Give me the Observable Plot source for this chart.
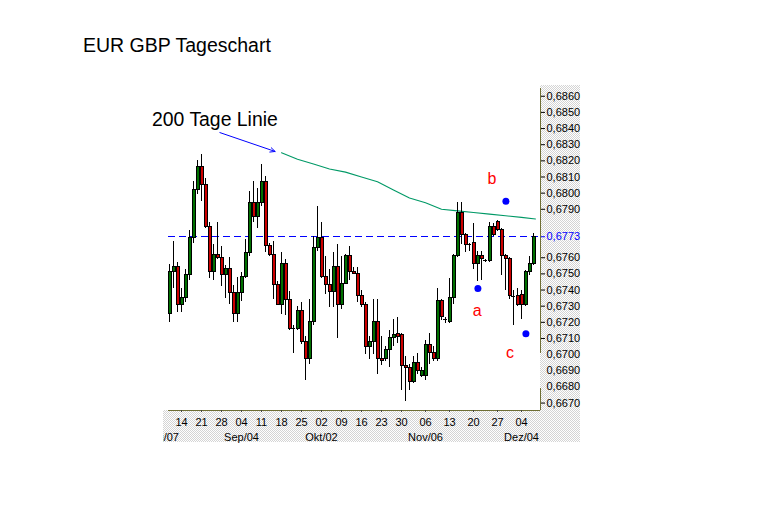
<!DOCTYPE html>
<html>
<head>
<meta charset="utf-8">
<script src="https://cdn.jsdelivr.net/npm/d3@7"></script>
<script src="https://cdn.jsdelivr.net/npm/@observablehq/plot@0.6"></script>
<style>
  html, body { margin: 0; padding: 0; background: #fff; }
  #wrap { position: relative; width: 779px; height: 520px; overflow: hidden; background: #fff; font-family: "Liberation Sans", Arial, sans-serif; }
  .dots { position: absolute; background-color: #fff; background-image: repeating-conic-gradient(#d4d4d4 0% 25%, #ffffff 0% 50%); background-size: 2px 2px; }
  #title { position: absolute; left: 83px; top: 36px; font-size: 19.5px; line-height: 19.5px; color: #000; white-space: nowrap; }
  #note { position: absolute; left: 152px; top: 109.6px; font-size: 19.4px; line-height: 19.4px; color: #000; white-space: nowrap; }
  #chart { position: absolute; left: 163px; top: 0; }
</style>
</head>
<body>
<div id="wrap">
  <div class="dots" style="left:540px;top:85px;width:40px;height:357px"></div>
  <div class="dots" style="left:163px;top:410px;width:417px;height:32px"></div>
  <div id="title">EUR GBP Tageschart</div>
  <div id="note">200 Tage Linie</div>
  <div id="chart"></div>
</div>
<script>
// Daily candles (trading-day index 0..91), EUR/GBP Aug–Dec 2006
const open = [0.6725,0.6751,0.6754,0.6731,0.6735,0.6749,0.6772,0.6802,0.6816,0.6805,
0.6779,0.6751,0.6762,0.6760,0.6749,0.6753,0.6738,0.6725,0.6738,0.6748,
0.6763,0.6794,0.6785,0.6794,0.6807,0.6767,0.6762,0.6743,0.6731,0.6756,
0.6734,0.6716,0.6716,0.6727,0.6708,0.6697,0.6720,0.6766,0.6772,0.6748,
0.6743,0.6739,0.6754,0.6731,0.6744,0.6761,0.6751,0.6750,0.6736,0.6731,
0.6705,0.6708,0.6720,0.6697,0.6697,0.6703,0.6710,0.6713,0.6712,0.6693,
0.6692,0.6683,0.6695,0.6687,0.6687,0.6706,0.6701,0.6697,0.6733,0.6722,
0.6720,0.6735,0.6761,0.6788,0.6774,0.6768,0.6769,0.6756,0.6761,0.6758,
0.6758,0.6779,0.6782,0.6777,0.6761,0.6759,0.6736,0.6736,0.6737,0.6731,
0.6751,0.6756];
const high = [0.6756,0.6770,0.6757,0.6741,0.6753,0.6777,0.6807,0.6820,0.6824,0.6809,
0.6782,0.6768,0.6782,0.6767,0.6755,0.6760,0.6743,0.6748,0.6751,0.6771,
0.6801,0.6807,0.6803,0.6818,0.6810,0.6769,0.6770,0.6745,0.6763,0.6759,
0.6739,0.6718,0.6730,0.6732,0.6711,0.6734,0.6773,0.6792,0.6782,0.6761,
0.6753,0.6763,0.6768,0.6761,0.6762,0.6767,0.6754,0.6754,0.6740,0.6732,
0.6711,0.6734,0.6734,0.6711,0.6705,0.6715,0.6722,0.6723,0.6713,0.6699,
0.6694,0.6699,0.6701,0.6692,0.6709,0.6713,0.6705,0.6741,0.6734,0.6723,
0.6747,0.6762,0.6794,0.6794,0.6775,0.6769,0.6781,0.6764,0.6764,0.6759,
0.6782,0.6781,0.6783,0.6778,0.6762,0.6760,0.6740,0.6741,0.6740,0.6752,
0.6761,0.6775];
const low = [0.6720,0.6741,0.6726,0.6726,0.6732,0.6746,0.6769,0.6799,0.6795,0.6778,
0.6747,0.6746,0.6759,0.6742,0.6735,0.6731,0.6720,0.6720,0.6733,0.6747,
0.6761,0.6782,0.6778,0.6792,0.6763,0.6761,0.6734,0.6731,0.6725,0.6724,
0.6715,0.6701,0.6715,0.6706,0.6684,0.6694,0.6718,0.6764,0.6747,0.6737,
0.6729,0.6729,0.6710,0.6728,0.6744,0.6746,0.6750,0.6732,0.6729,0.6700,
0.6697,0.6700,0.6688,0.6693,0.6696,0.6692,0.6705,0.6707,0.6678,0.6671,
0.6678,0.6682,0.6688,0.6686,0.6684,0.6694,0.6696,0.6696,0.6721,0.6719,
0.6719,0.6731,0.6760,0.6768,0.6763,0.6764,0.6753,0.6745,0.6746,0.6757,
0.6757,0.6773,0.6776,0.6749,0.6740,0.6734,0.6718,0.6730,0.6722,0.6730,
0.6749,0.6755];
const close = [0.6751,0.6754,0.6731,0.6735,0.6749,0.6772,0.6802,0.6816,0.6805,0.6779,
0.6751,0.6762,0.6760,0.6749,0.6753,0.6738,0.6725,0.6738,0.6748,0.6763,
0.6794,0.6785,0.6794,0.6807,0.6767,0.6762,0.6743,0.6731,0.6756,0.6734,
0.6716,0.6716,0.6727,0.6708,0.6697,0.6720,0.6766,0.6772,0.6748,0.6743,
0.6739,0.6754,0.6731,0.6744,0.6761,0.6751,0.6750,0.6736,0.6731,0.6705,
0.6708,0.6720,0.6697,0.6696,0.6703,0.6710,0.6712,0.6711,0.6693,0.6692,
0.6683,0.6695,0.6690,0.6690,0.6706,0.6701,0.6697,0.6733,0.6723,0.6722,
0.6735,0.6761,0.6788,0.6774,0.6768,0.6768,0.6756,0.6761,0.6759,0.6758,
0.6779,0.6774,0.6777,0.6761,0.6759,0.6736,0.6736,0.6731,0.6731,0.6751,
0.6756,0.6773];

// 200-day moving average (read at trading-day indices)
const maIdx = [28,32,36,40,44,48,52,56,60,64,68,72,76,80,84,88,91.5];
const maVal = [0.6825,0.6821,0.6818,0.6815,0.6813,0.6810,0.6807,0.6802,0.6797,0.6794,0.6790,0.6789,0.6788,0.6787,0.6786,0.6785,0.6784];

// Wave points a, b, c
const waveLabels = ["a","b","c"];
const waveDotIdx = [77.1, 84.1, 89.1];
const waveDotVal = [0.6741, 0.6795, 0.6713];
const waveTextIdx = [76.9, 80.6, 85.1];
const waveTextVal = [0.6727, 0.6809, 0.6701];

// Annotation arrow "200 Tage Linie"
const arrowIdx = [12.6, 26.4];
const arrowVal = [0.68375, 0.68258];

// Axis ticks
const dayIdx = [3,8,13,18,23,28,33,38,43,48,53,58,64,70,76,82,88];
const dayLabels = ["14","21","28","04","11","18","25","02","09","16","23","30","06","13","20","27","04"];
const monthIdx = [-2,18,38,64,88];
const monthLabels = ["Aug/07","Sep/04","Okt/02","Nov/06","Dez/04"];
const priceTicks = [0.6860,0.6850,0.6840,0.6830,0.6820,0.6810,0.6800,0.6790,0.6760,0.6750,0.6740,0.6730,0.6720,0.6710,0.6670];
const priceTicksPlain = [0.6700,0.6690,0.6680];

const candles = open.map((o, i) => ({i, open: o, high: high[i], low: low[i], close: close[i]}));
const dojis = candles.filter(d => d.open === d.close);
const ma = maIdx.map((x, k) => ({x, v: maVal[k]}));
const dots = waveLabels.map((t, k) => ({x: waveDotIdx[k], v: waveDotVal[k]}));
const texts = waveLabels.map((t, k) => ({x: waveTextIdx[k], v: waveTextVal[k], t}));
const dayMap = new Map(dayIdx.map((d, k) => [d, dayLabels[k]]));
const monthMap = new Map(monthIdx.map((d, k) => [d, monthLabels[k]]));
const lastClose = close[close.length - 1];
const fmt = v => v.toFixed(4).replace(".", ",");

const xDomain = [-1.5, 92.75];
const yDomain = [0.66654, 0.68648];
const drawStart = -0.25, drawEnd = 92.25;
const olive = "#6e6e34";
const up = "#007000", down = "#cc0000";
const font = "Liberation Sans, Arial, sans-serif";

const chart = Plot.plot({
  width: 616, height: 520,
  marginLeft: 0, marginRight: 239, marginTop: 88, marginBottom: 110,
  x: {domain: xDomain, label: null},
  y: {domain: yDomain, label: null},
  color: {type: "identity"},
  style: {background: "transparent", overflow: "hidden", fontFamily: font, fontSize: "11px", color: "#000"},
  marks: [
    // reference line at last close
    Plot.ruleY([lastClose], {x1: () => drawStart, x2: () => drawEnd, stroke: "#0000ff", strokeDasharray: "7,4", shapeRendering: "crispEdges"}),
    // 200-day line
    Plot.line(ma, {x: "x", y: "v", stroke: "#009966", strokeWidth: 1.1}),
    // wicks
    Plot.ruleX(candles, {x: "i", y1: "low", y2: "high", stroke: "#000", shapeRendering: "crispEdges"}),
    // bodies
    Plot.rect(candles, {x1: d => d.i - 0.25, x2: d => d.i + 0.5, y1: "open", y2: "close",
      fill: d => d.close > d.open ? up : down, stroke: "#000", strokeWidth: 1, shapeRendering: "crispEdges"}),
    Plot.ruleY(dojis, {y: "open", x1: d => d.i - 0.5, x2: d => d.i + 0.5, stroke: "#000", shapeRendering: "crispEdges"}),
    // axis lines
    Plot.ruleY([yDomain[0]], {x1: () => drawStart, x2: () => xDomain[1], stroke: olive, shapeRendering: "crispEdges"}),
    Plot.ruleX([xDomain[1]], {y1: () => 0.6701, y2: () => yDomain[1], stroke: olive, shapeRendering: "crispEdges"}),
    Plot.ruleX([xDomain[1]], {y1: () => yDomain[0], y2: () => 0.6679, stroke: olive, shapeRendering: "crispEdges"}),
    // price axis
    Plot.axisY(priceTicks, {anchor: "right", tickSize: 4, tickPadding: 2, tickFormat: fmt, label: null, stroke: "#000", fill: "#000", fontSize: 11}),
    Plot.axisY(priceTicksPlain, {anchor: "right", tickSize: 0, tickPadding: 6, tickFormat: fmt, label: null, fill: "#000", fontSize: 11}),
    Plot.axisY([lastClose], {anchor: "right", tickSize: 4, tickPadding: 2, tickFormat: fmt, label: null, stroke: "#0000ff", fill: "#0000ff", fontSize: 11}),
    // date axis
    Plot.axisX(dayIdx, {anchor: "bottom", tickSize: 2, tickPadding: 6, tickFormat: d => dayMap.get(d), label: null, stroke: "#444", fill: "#000", fontSize: 11}),
    Plot.axisX(monthIdx, {anchor: "bottom", tickSize: 0, tickPadding: 23, tickFormat: d => monthMap.get(d), label: null, fill: "#000", fontSize: 11}),
    // annotations
    Plot.arrow([0], {x1: () => arrowIdx[0], y1: () => arrowVal[0], x2: () => arrowIdx[1], y2: () => arrowVal[1], stroke: "#0000ff", headLength: 8, headAngle: 50, strokeWidth: 1}),
    Plot.dot(dots, {x: "x", y: "v", r: 3.5, fill: "#0000ff", stroke: "none"}),
    Plot.text(texts, {x: "x", y: "v", text: "t", fill: "#ff0000", fontSize: 16, fontFamily: font})
  ]
});
document.getElementById("chart").appendChild(chart);
</script>
</body>
</html>
